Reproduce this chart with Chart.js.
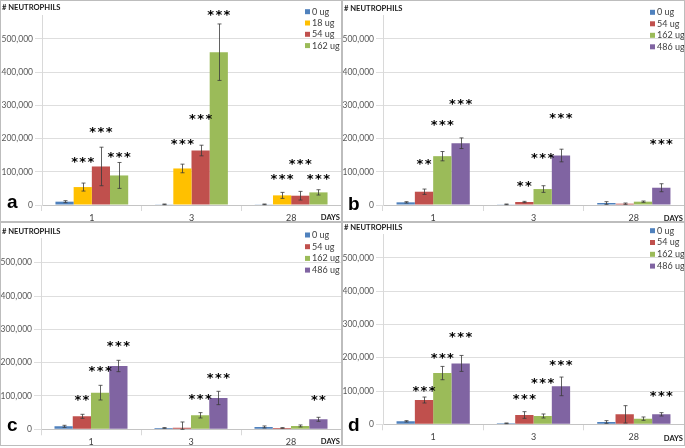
<!DOCTYPE html>
<html>
<head>
<meta charset="utf-8">
<script src="https://cdn.jsdelivr.net/npm/chart.js@4.4.1/dist/chart.umd.min.js"></script>
<style>
  html, body { margin: 0; padding: 0; background: #fff; }
  body { width: 685px; height: 448px; position: relative; overflow: hidden; }
  canvas { position: absolute; }
  .line { position: absolute; background: #bdbdbd; }
</style>
</head>
<body>
<div class="line" style="left:0;top:0;width:685px;height:1px"></div>
<div class="line" style="left:0;top:0;width:1px;height:446px"></div>
<div class="line" style="left:684px;top:0;width:1px;height:446px"></div>
<div class="line" style="left:0;top:445px;width:685px;height:1px"></div>
<div class="line" style="left:341px;top:0;width:2px;height:446px"></div>
<div class="line" style="left:0;top:221px;width:685px;height:2px"></div>
<canvas id="pa" width="340" height="220" style="left:1px;top:1px"></canvas>
<canvas id="pb" width="341" height="220" style="left:343px;top:1px"></canvas>
<canvas id="pc" width="340" height="222" style="left:1px;top:223px"></canvas>
<canvas id="pd" width="341" height="221" style="left:343px;top:223px"></canvas>
<script>
// jours (axe x)
const days = ['1', '3', '28'];
// graduations de l'axe y
const yTicks = [0, 100000, 200000, 300000, 400000, 500000];

// panneau a
const dosesA = ['0 ug', '18 ug', '54 ug', '162 ug'];
const a0 = [10000, 2000, 2000];
const a0Err = [3000, 1000, 1000];
const a18 = [54000, 110000, 29000];
const a18Err = [12000, 13000, 9000];
const a54 = [116000, 164000, 28000];
const a54Err = [58000, 16000, 13000];
const a162 = [89000, 460000, 38000];
const a162Err = [39000, 85000, 8000];
const aStars18 = ['***', '***', '***'];
const aStarAt18 = [135000, 189000, 85000];
const aStars54 = ['***', '***', '***'];
const aStarAt54 = [226000, 264000, 129000];
const aStars162 = ['***', '***', '***'];
const aStarAt162 = [150000, 577000, 85000];

// panneau b
const dosesB = ['0 ug', '54 ug', '162 ug', '486 ug'];
const b0 = [8000, 2000, 6000];
const b0Err = [2000, 1000, 4000];
const b54 = [40000, 9000, 4000];
const b54Err = [8000, 2000, 2000];
const b162 = [147000, 48000, 10000];
const b162Err = [14000, 10000, 2000];
const b486 = [186000, 149000, 52000];
const b486Err = [16000, 19000, 12000];
const bStars54 = ['**', '**', ''];
const bStarAt54 = [128000, 64000, 0];
const bStars162 = ['***', '***', ''];
const bStarAt162 = [246000, 148000, 0];
const bStars486 = ['***', '***', '***'];
const bStarAt486 = [309000, 268000, 190000];

// panneau c
const c0 = [9000, 4000, 7000];
const c0Err = [3000, 1000, 3000];
const c54 = [39000, 5000, 4000];
const c54Err = [6000, 17000, 1000];
const c162 = [110000, 42000, 10000];
const c162Err = [22000, 8000, 3000];
const c486 = [190000, 94000, 30000];
const c486Err = [17000, 20000, 6000];
const cStars54 = ['**', '', ''];
const cStarAt54 = [93000, 0, 0];
const cStars162 = ['***', '***', ''];
const cStarAt162 = [182000, 98000, 0];
const cStars486 = ['***', '***', '**'];
const cStarAt486 = [257000, 161000, 95000];

// panneau d
const d0 = [9000, 3000, 7000];
const d0Err = [2000, 1000, 4000];
const d54 = [73000, 28000, 30000];
const d54Err = [9000, 10000, 26000];
const d162 = [154000, 25000, 17000];
const d162Err = [20000, 6000, 5000];
const d486 = [183000, 114000, 30000];
const d486Err = [24000, 28000, 5000];
const dStars54 = ['***', '***', ''];
const dStarAt54 = [106000, 83000, 0];
const dStars162 = ['***', '***', ''];
const dStarAt162 = [204000, 129000, 0];
const dStars486 = ['***', '***', '***'];
const dStarAt486 = [269000, 183000, 91000];

// couleurs Excel
const BLUE = '#4f81bd', YELLOW = '#ffc000', RED = '#c0504d', GREEN = '#9bbb59', PURPLE = '#8064a2';

function serie(label, data, errors, color, stars, starAt) {
    return { label, data, errors, backgroundColor: color, stars: stars || [], starAt: starAt || [] };
}

// texte, barres d'erreur, étoiles et légende dessinés par-dessus
function extras(L) {
    return {
        id: 'extras',
        afterDatasetsDraw(chart) {
            const ctx = chart.ctx, y = chart.scales.y;
            ctx.save();
            ctx.strokeStyle = '#3a3a3a';
            ctx.lineWidth = 0.8;
            chart.data.datasets.forEach((ds, i) => {
                chart.getDatasetMeta(i).data.forEach((bar, j) => {
                    const e = ds.errors[j];
                    if (!e) return;
                    const top = y.getPixelForValue(ds.data[j] + e);
                    const bot = y.getPixelForValue(Math.max(ds.data[j] - e, 0));
                    const x = Math.round(bar.x) + 0.5;
                    ctx.beginPath();
                    ctx.moveTo(x, top); ctx.lineTo(x, bot);
                    ctx.moveTo(x - 2, top); ctx.lineTo(x + 2, top);
                    ctx.moveTo(x - 2, bot); ctx.lineTo(x + 2, bot);
                    ctx.stroke();
                });
            });
            ctx.restore();
        },
        afterDraw(chart) {
            const ctx = chart.ctx, y = chart.scales.y;
            ctx.save();
            // étoiles de significativité
            ctx.font = 'bold 13px "DejaVu Sans"';
            ctx.fillStyle = '#000';
            ctx.textAlign = 'center';
            ctx.textBaseline = 'alphabetic';
            const m = ctx.measureText('*');
            const shift = (m.actualBoundingBoxAscent - m.actualBoundingBoxDescent) / 2;
            chart.data.datasets.forEach((ds, i) => {
                chart.getDatasetMeta(i).data.forEach((bar, j) => {
                    const s = ds.stars[j];
                    if (!s) return;
                    const cy = y.getPixelForValue(ds.starAt[j]);
                    const pitch = 8.2;
                    for (let k = 0; k < s.length; k++) {
                        ctx.fillText('*', bar.x + (k - (s.length - 1) / 2) * pitch, cy + shift);
                    }
                });
            });
            // titre
            ctx.textAlign = 'left';
            ctx.textBaseline = 'middle';
            ctx.fillStyle = '#1a1a1a';
            ctx.font = 'bold 7.6px Lato';
            ctx.fillText('# NEUTROPHILS', 1, L.titleY);
            // lettre du panneau
            ctx.textBaseline = 'alphabetic';
            ctx.fillStyle = '#000';
            ctx.font = 'bold 19px "Liberation Sans"';
            ctx.fillText(L.letter, L.letterX, L.letterY);
            // DAYS
            ctx.textAlign = 'right';
            ctx.textBaseline = 'middle';
            ctx.font = 'bold 7.6px Lato';
            ctx.fillStyle = '#1a1a1a';
            ctx.fillText('DAYS', chart.width - 1, L.daysY);
            // légende
            ctx.textAlign = 'left';
            ctx.font = '9px Lato';
            chart.data.datasets.forEach((ds, i) => {
                const ry = L.legY + i * L.legStep;
                ctx.fillStyle = ds.backgroundColor;
                ctx.fillRect(L.legX, ry - 2.5, 5, 5);
                ctx.fillStyle = '#404040';
                ctx.fillText(ds.label, L.legX + 7, ry);
            });
            ctx.restore();
        }
    };
}

function drawPanel(id, sets, L) {
    const canvas = document.getElementById(id);
    return new Chart(canvas, {
        type: 'bar',
        data: { labels: days, datasets: sets },
        options: {
            responsive: false,
            animation: false,
            layout: { padding: { top: L.top, left: 0, right: 0, bottom: 0 } },
            datasets: { bar: { categoryPercentage: 0.73, barPercentage: 1 } },
            plugins: { legend: { display: false }, tooltip: { enabled: false } },
            scales: {
                x: {
                    grid: { drawOnChartArea: false, tickLength: 6, color: '#d9d9d9' },
                    border: { color: '#c4c4c4' },
                    ticks: { padding: 1.5, color: '#404040', maxRotation: 0, font: { family: 'Lato', size: 9 } },
                    afterFit: s => { s.height = L.xh; }
                },
                y: {
                    min: 0,
                    max: 572000,
                    grid: { color: '#dedede', tickLength: 7 },
                    border: { color: '#d9d9d9' },
                    ticks: {
                        padding: 2,
                        autoSkip: false,
                        color: '#595959',
                        font: { family: 'Lato', size: 8.5 },
                        callback: v => v.toLocaleString('en-US')
                    },
                    afterBuildTicks: s => { s.ticks = yTicks.map(v => ({ value: v })); },
                    afterFit: s => { s.width = L.left; }
                }
            }
        },
        plugins: [extras(L)]
    });
}

drawPanel('pa', [
    serie(dosesA[0], a0, a0Err, BLUE),
    serie(dosesA[1], a18, a18Err, YELLOW, aStars18, aStarAt18),
    serie(dosesA[2], a54, a54Err, RED, aStars54, aStarAt54),
    serie(dosesA[3], a162, a162Err, GREEN, aStars162, aStarAt162)
], { left: 41, top: 14, xh: 16, titleY: 7, legX: 304, legY: 10.7, legStep: 11.3, letter: 'a', letterX: 6, letterY: 207, daysY: 216.5 });

drawPanel('pb', [
    serie(dosesB[0], b0, b0Err, BLUE),
    serie(dosesB[1], b54, b54Err, RED, bStars54, bStarAt54),
    serie(dosesB[2], b162, b162Err, GREEN, bStars162, bStarAt162),
    serie(dosesB[3], b486, b486Err, PURPLE, bStars486, bStarAt486)
], { left: 40, top: 14, xh: 16, titleY: 7.3, legX: 307, legY: 11.3, legStep: 11.5, letter: 'b', letterX: 5, letterY: 209, daysY: 217.3 });

drawPanel('pc', [
    serie(dosesB[0], c0, c0Err, BLUE),
    serie(dosesB[1], c54, c54Err, RED, cStars54, cStarAt54),
    serie(dosesB[2], c162, c162Err, GREEN, cStars162, cStarAt162),
    serie(dosesB[3], c486, c486Err, PURPLE, cStars486, cStarAt486)
], { left: 40, top: 15.7, xh: 15.7, titleY: 8.7, legX: 304, legY: 12, legStep: 11.7, letter: 'c', letterX: 6, letterY: 208, daysY: 218.7 });

drawPanel('pd', [
    serie(dosesB[0], d0, d0Err, BLUE),
    serie(dosesB[1], d54, d54Err, RED, dStars54, dStarAt54),
    serie(dosesB[2], d162, d162Err, GREEN, dStars162, dStarAt162),
    serie(dosesB[3], d486, d486Err, PURPLE, dStars486, dStarAt486)
], { left: 40, top: 11, xh: 19.7, titleY: 4.3, legX: 307, legY: 7.7, legStep: 11.8, letter: 'd', letterX: 5, letterY: 207.7, daysY: 215.3 });
</script>
</body>
</html>
